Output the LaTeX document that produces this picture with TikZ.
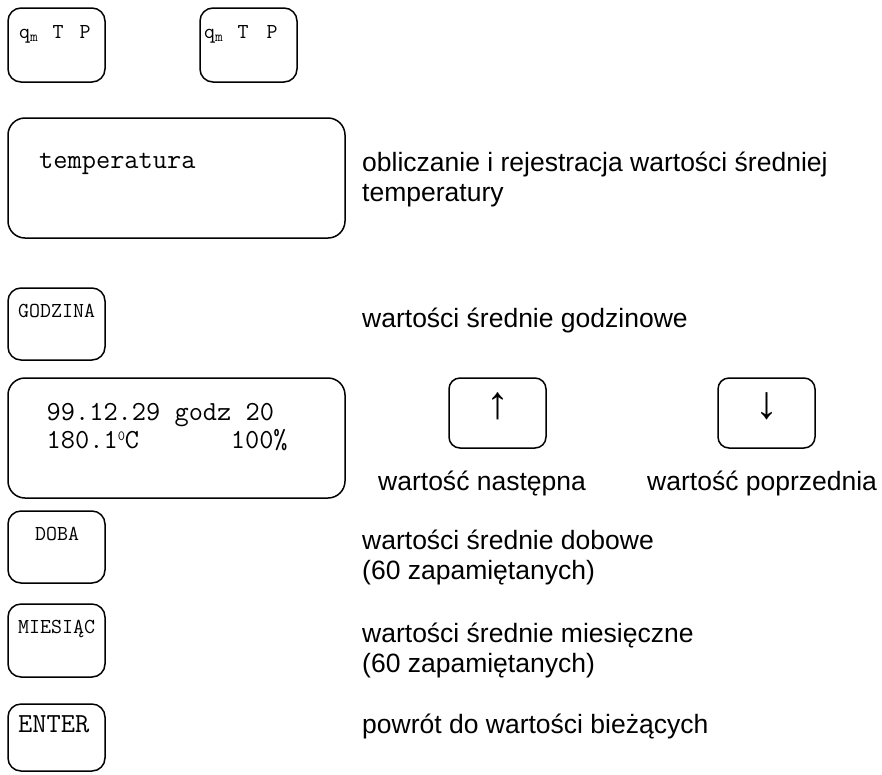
\documentclass[tikz,border=0pt]{standalone}
\usepackage{fontspec}
\setmainfont{Liberation Sans}
\usetikzlibrary{positioning}

\tikzset{
  keybox/.style={draw, line width=1.5pt, rounded corners=13pt, inner sep=0pt, outer sep=0pt,
                 minimum width=97pt},
  wide/.style={keybox, rounded corners=17pt, minimum width=337pt, minimum height=120pt},
  arrowkey/.style={keybox, rounded corners=11pt, minimum height=70pt},
  small/.style={anchor=base west, inner sep=0pt, font=\ttfamily\fontsize{21.3}{24}\selectfont},
  big/.style={anchor=base west, inner sep=0pt, align=left, font=\ttfamily\fontsize{27.6}{28}\selectfont},
  note/.style={anchor=base west, inner sep=0pt, align=left, font=\fontsize{26.5}{30}\selectfont},
  glyph/.style={anchor=base, inner sep=0pt, font=\fontsize{46}{50}\selectfont},
}
% small raised degree digit used in the readout
\newcommand{\degdigit}{\raisebox{8pt}{\fontsize{14}{14}\selectfont 0}}

\begin{document}
\begin{tikzpicture}[x=1pt, y=-1pt]
  \useasboundingbox (0,0) rectangle (882,774);

  % key buttons
  \node[keybox, minimum height=74pt] (qtpa) at (56.5,45) {};
  \node[keybox, minimum height=74pt] (qtpb) at (248.5,45) {};
  \node[wide] (temp) at (176.5,178) {};
  \node[keybox, minimum height=72pt] (godz) at (56.5,324) {};
  \node[wide] (disp) at (176.5,438) {};
  \node[arrowkey] (up) at (497.5,413) {};
  \node[arrowkey] (down) at (766.5,413) {};
  \node[keybox, minimum height=72pt] (doba) at (56.5,547) {};
  \node[keybox, minimum height=73pt] (mies) at (56.5,640.5) {};
  \node[keybox, minimum height=67pt] (enter) at (56.5,737.5) {};

  % key captions
  \node[small] (qtpat) at (19,38) {\makebox[33.5pt][l]{q\textsubscript{m}}\makebox[27pt][l]{T}P};
  \node[small] (qtpbt) at (204,38) {\makebox[33.5pt][l]{q\textsubscript{m}}\makebox[29pt][l]{T}P};
  \node[big] (tempt) at (39,168) {temperatura};
  \node[small] (godzt) at (18,317) {GODZINA};
  % two-line readout; the base anchor sits on the last line
  \node[big] (dispt) at (46.5,448)
    {99.12.29 godz 20\\\makebox[241pt][l]{180.1\degdigit C\hfill 100\%}};
  \node[small] (dobat) at (35,540) {DOBA};
  \node[small] (miest) at (18,633) {MIESIĄC};
  \node[big] (entert) at (18,732) {ENTER};

  % arrow glyphs
  \node[glyph] (upt) at (497.5,418) {↑};
  \node[glyph] (downt) at (766.5,418) {↓};

  % descriptions
  \node[note] (ntemp) at (362,201) {obliczanie i rejestracja wartości średniej\\temperatury};
  \node[note] (ngodz) at (362,327) {wartości średnie godzinowe};
  \node[note] (nup) at (378,490) {wartość następna};
  \node[note] (ndown) at (647,490) {wartość poprzednia};
  \node[note] (ndoba) at (362,579) {wartości średnie dobowe\\(60 zapamiętanych)};
  \node[note] (nmies) at (362,672) {wartości średnie miesięczne\\(60 zapamiętanych)};
  \node[note] (nenter) at (362,733) {powrót do wartości bieżących};
\end{tikzpicture}
\end{document}
